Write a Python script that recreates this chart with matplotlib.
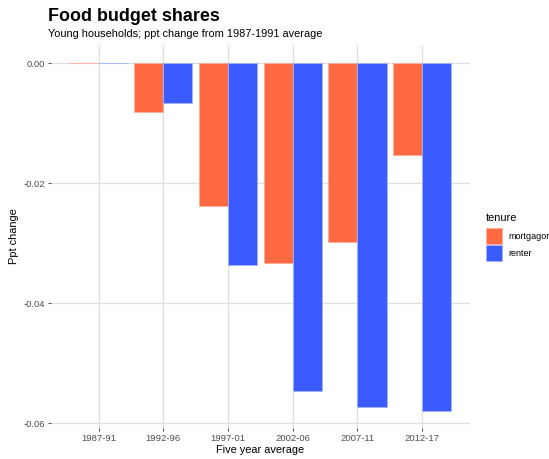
import matplotlib
matplotlib.use("Agg")
import matplotlib.pyplot as plt
from matplotlib.patches import Rectangle
import numpy as np

# Change in young households' food budget share vs. the 1987-1991 average
periods = ["1987-91", "1992-96", "1997-01", "2002-06", "2007-11", "2012-17"]
mortgagor = [0.0, -0.0082, -0.0238, -0.0333, -0.0298, -0.0154]
renter = [0.0, -0.0067, -0.0336, -0.0546, -0.0573, -0.0579]
tenure_labels = ["mortgagor", "renter"]
y_ticks = [0.00, -0.02, -0.04, -0.06]

colors = {"mortgagor": "#FF6A42", "renter": "#3A5CFF"}
edge = {"mortgagor": "#FFAE98", "renter": "#A2B2FF"}

plt.rcParams["font.family"] = ["Liberation Sans", "DejaVu Sans"]

W, H = 549, 459
fig = plt.figure(figsize=(W / 100, H / 100), dpi=100)
ax = fig.add_axes([50.7 / W, 1 - 428 / H, (470 - 50.7) / W, (428 - 45) / H])

x = np.arange(len(periods))
bw = 0.45
for i, (name, vals) in enumerate(zip(tenure_labels, [mortgagor, renter])):
    ax.bar(x + (i - 0.5) * bw, vals, width=bw, color=colors[name],
           edgecolor=edge[name], linewidth=0.6, label=name, zorder=3)

ax.set_xlim(-0.74, 5.74)
ax.set_ylim(-0.0608, 0.003)
ax.set_xticks(x)
ax.set_xticklabels(periods)
ax.set_yticks(y_ticks)
ax.set_yticklabels([f"{v:.2f}" for v in y_ticks])

ax.grid(True, color="#DEDEDE", linewidth=0.9, zorder=0)
ax.set_axisbelow(True)
for s in ax.spines.values():
    s.set_visible(False)
ax.tick_params(axis="both", colors="#333333", labelcolor="#4D4D4D",
               labelsize=6.8, length=2.2, width=0.6, pad=2)

ax.set_xlabel("Five year average", fontsize=7.9, color="black", labelpad=1.5)
ax.set_ylabel("Ppt change", fontsize=7.9, color="black")
ax.yaxis.set_label_coords(-0.0756, 0.5)

fig.text(48 / W, 1 - 21 / H, "Food budget shares", fontsize=12.9,
         fontweight="bold", ha="left", va="baseline")
fig.text(48 / W, 1 - 37 / H, "Young households; ppt change from 1987-1991 average",
         fontsize=7.9, ha="left", va="baseline")

# Legend drawn in figure pixel coordinates
fig.text(486 / W, 1 - 218.3 / H, "tenure", fontsize=7.9, ha="left", va="center")
key_top = 228.3
key = 16.0
for j, name in enumerate(tenure_labels):
    top = key_top + j * (key + 0.8)
    fig.patches.append(Rectangle((486.5 / W, 1 - (top + key) / H), key / W, key / H,
                                 transform=fig.transFigure, facecolor=colors[name],
                                 edgecolor=edge[name], linewidth=0.6))
    fig.text(508 / W, 1 - (top + key / 2) / H, name, fontsize=6.5,
             ha="left", va="center")

fig.savefig("out.png", dpi=100)
